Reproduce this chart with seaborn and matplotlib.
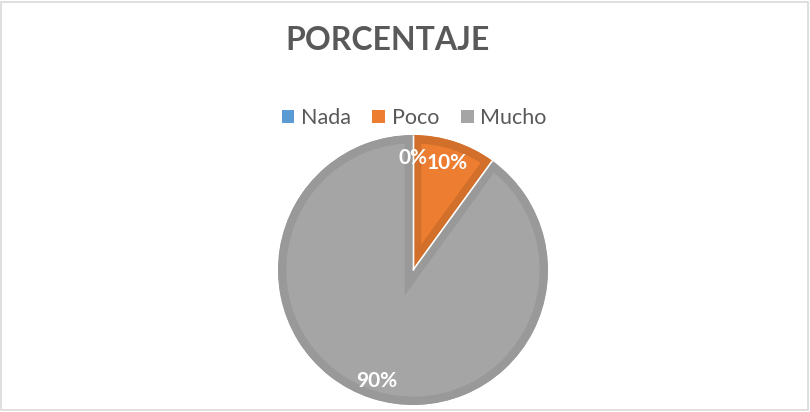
import matplotlib
matplotlib.use("Agg")
import matplotlib.pyplot as plt
import seaborn as sns
import numpy as np
from matplotlib.patches import Rectangle, Wedge

# data
categories = ["Nada", "Poco", "Mucho"]
values = [0, 10, 90]
fill_colors = ["#5B9BD5", "#ED7D31", "#A5A5A5"]
edge_colors = ["#4F88BC", "#D26F2A", "#999999"]

sns.set_style("white")
plt.rcParams["font.family"] = ["Lato", "DejaVu Sans"]

fig = plt.figure(figsize=(8.1, 4.12), dpi=100)
fig.patch.set_facecolor("white")
fig.patches.append(Rectangle((0.001, 0.004), 0.997, 0.992, transform=fig.transFigure,
                             fill=False, edgecolor="#D9D9D9", linewidth=1.2))

# pie axes: center ~ (413, 270) px from top, radius ~135 px
ax = fig.add_axes([278 / 810, 7 / 412, 270 / 810, 270 / 412])

wedges, texts, autotexts = ax.pie(
    values, colors=fill_colors, startangle=90, counterclock=False,
    autopct="%1.0f%%", pctdistance=0.83, radius=1,
    wedgeprops=dict(linewidth=12, edgecolor="none"),
    textprops=dict(color="white", fontsize=15, fontweight="bold"))

ax.set_xlim(-1, 1)
ax.set_ylim(-1, 1)
ax.set_aspect("equal")
ax.axis("off")

# keep the thick edge inside each wedge (Excel-like inset border)
for w, ec in zip(wedges, edge_colors):
    w.set_edgecolor(ec)
    clip = Wedge(w.center, w.r, w.theta1, w.theta2, transform=ax.transData)
    w.set_clip_on(True)
    w.set_clip_path(clip)

# thin white separators along wedge boundaries
for w in wedges:
    if w.theta2 - w.theta1 > 0:
        for th in (w.theta1, w.theta2):
            t = np.deg2rad(th)
            ax.plot([0, np.cos(t)], [0, np.sin(t)], color="white", lw=1.0,
                    alpha=0.9, solid_capstyle="butt", zorder=3)

autotexts[2].set_position((0.83 * np.cos(np.deg2rad(-108)) * 1.04,
                           0.83 * np.sin(np.deg2rad(-108)) * 1.04))
for t in autotexts:
    t.set_zorder(5)

fig.text(388 / 810, 1 - 41 / 412, "PORCENTAJE", ha="center", va="center",
         fontsize=23, fontweight="bold", color="#595959")

handles = [Rectangle((0, 0), 1, 1, facecolor=c, edgecolor="none") for c in fill_colors]
fig.legend(handles, categories, loc="center", bbox_to_anchor=(414 / 810, 1 - 118 / 412),
           ncol=3, frameon=False, fontsize=15.5, handlelength=0.6, handleheight=0.6,
           handletextpad=0.3, columnspacing=1.0, labelcolor="#595959")

fig.savefig("out.png", dpi=100)
